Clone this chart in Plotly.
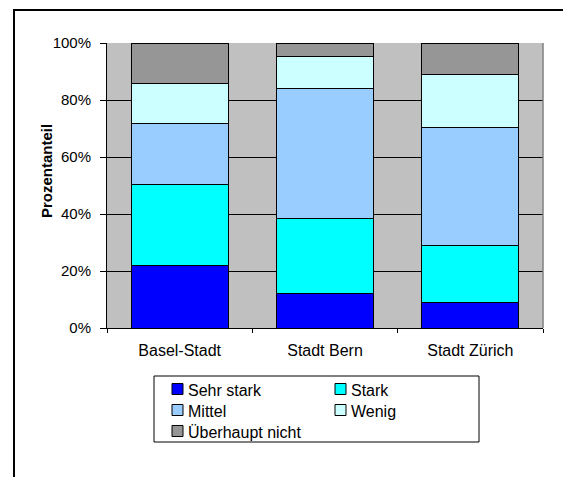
import plotly.graph_objects as go

categories = ["Basel-Stadt", "Stadt Bern", "Stadt Zürich"]
series_names = ["Sehr stark", "Stark", "Mittel", "Wenig", "Überhaupt nicht"]
sehr_stark = [22.0, 12.2, 9.0]
stark = [28.4, 26.3, 20.1]
mittel = [21.2, 45.7, 41.1]
wenig = [14.3, 11.0, 18.9]
ueberhaupt_nicht = [14.1, 4.8, 10.9]
series_values = [sehr_stark, stark, mittel, wenig, ueberhaupt_nicht]
colors = ["#0000FF", "#00FFFF", "#99CCFF", "#CCFFFF", "#969696"]
y_ticks = [0, 20, 40, 60, 80, 100]
y_tick_labels = ["0%", "20%", "40%", "60%", "80%", "100%"]
y_title = "Prozentanteil"

FONT = "Liberation Sans, Arial, sans-serif"
W, H = 563, 477
L, R, T, B = 107, 20, 43, 149
pw, ph = W - L - R, H - T - B

fig = go.Figure()
for name, vals, col in zip(series_names, series_values, colors):
    fig.add_trace(go.Bar(
        x=categories, y=vals, name=name,
        marker=dict(color=col, line=dict(color="black", width=1)),
        hoverinfo="x+y+name",
    ))

def px_x(x):
    return (x - L) / pw

def px_y(y):
    return (H - B - y) / ph

shapes = [
    # outer chart frame
    dict(type="rect", xref="paper", yref="paper",
         x0=px_x(14), x1=px_x(620), y0=px_y(10), y1=px_y(540),
         line=dict(color="black", width=2), fillcolor="rgba(0,0,0,0)", layer="above"),
    # right border of plot area
    dict(type="line", xref="paper", yref="paper",
         x0=1, x1=1, y0=0, y1=1,
         line=dict(color="#808080", width=1.5), layer="above"),
    # legend box
    dict(type="rect", xref="paper", yref="paper",
         x0=px_x(154), x1=px_x(479), y0=px_y(376), y1=px_y(442),
         line=dict(color="black", width=1), fillcolor="white", layer="above"),
]
annotations = [dict(
    text="<b>" + y_title + "</b>", textangle=-90,
    xref="paper", yref="paper", x=px_x(46), y=px_y(171),
    xanchor="center", yanchor="middle", showarrow=False,
    font=dict(family=FONT, size=15, color="black"),
)]

# legend laid out in two columns, like the original
col_x = [172, 335]
row_y = [389, 410, 431]
sw = 11
for i, (name, col) in enumerate(zip(series_names, colors)):
    cx = col_x[i % 2]
    cy = row_y[i // 2]
    shapes.append(dict(
        type="rect", xref="paper", yref="paper",
        x0=px_x(cx), x1=px_x(cx + sw), y0=px_y(cy - sw / 2), y1=px_y(cy + sw / 2),
        line=dict(color="black", width=1), fillcolor=col, layer="above"))
    annotations.append(dict(
        text=name, xref="paper", yref="paper",
        x=px_x(cx + sw + 3), y=px_y(cy + 1), xanchor="left", yanchor="middle",
        showarrow=False, font=dict(family=FONT, size=16, color="black")))

fig.update_layout(
    width=W, height=H,
    margin=dict(l=L, r=R, t=T, b=B, pad=0),
    barmode="stack",
    bargap=1/3,
    paper_bgcolor="white",
    plot_bgcolor="#C0C0C0",
    font=dict(family=FONT, size=15, color="black"),
    showlegend=False,
    xaxis=dict(
        type="category",
        showgrid=False,
        showline=True, linecolor="black", linewidth=1,
        ticks="outside", ticklen=4, tickcolor="black", tickwidth=1,
        tickson="boundaries",
        ticklabelstandoff=8,
        tickfont=dict(family=FONT, size=16, color="black"),
        fixedrange=True,
    ),
    yaxis=dict(
        range=[0, 100],
        tickvals=y_ticks, ticktext=y_tick_labels,
        showgrid=True, gridcolor="black", gridwidth=1,
        showline=True, linecolor="black", linewidth=1,
        ticks="outside", ticklen=6, tickcolor="black", tickwidth=1,
        ticklabelstandoff=6,
        tickfont=dict(family=FONT, size=15, color="black"),
        zeroline=False,
        fixedrange=True,
    ),
    annotations=annotations,
    shapes=shapes,
)

fig.write_html("out.html")
